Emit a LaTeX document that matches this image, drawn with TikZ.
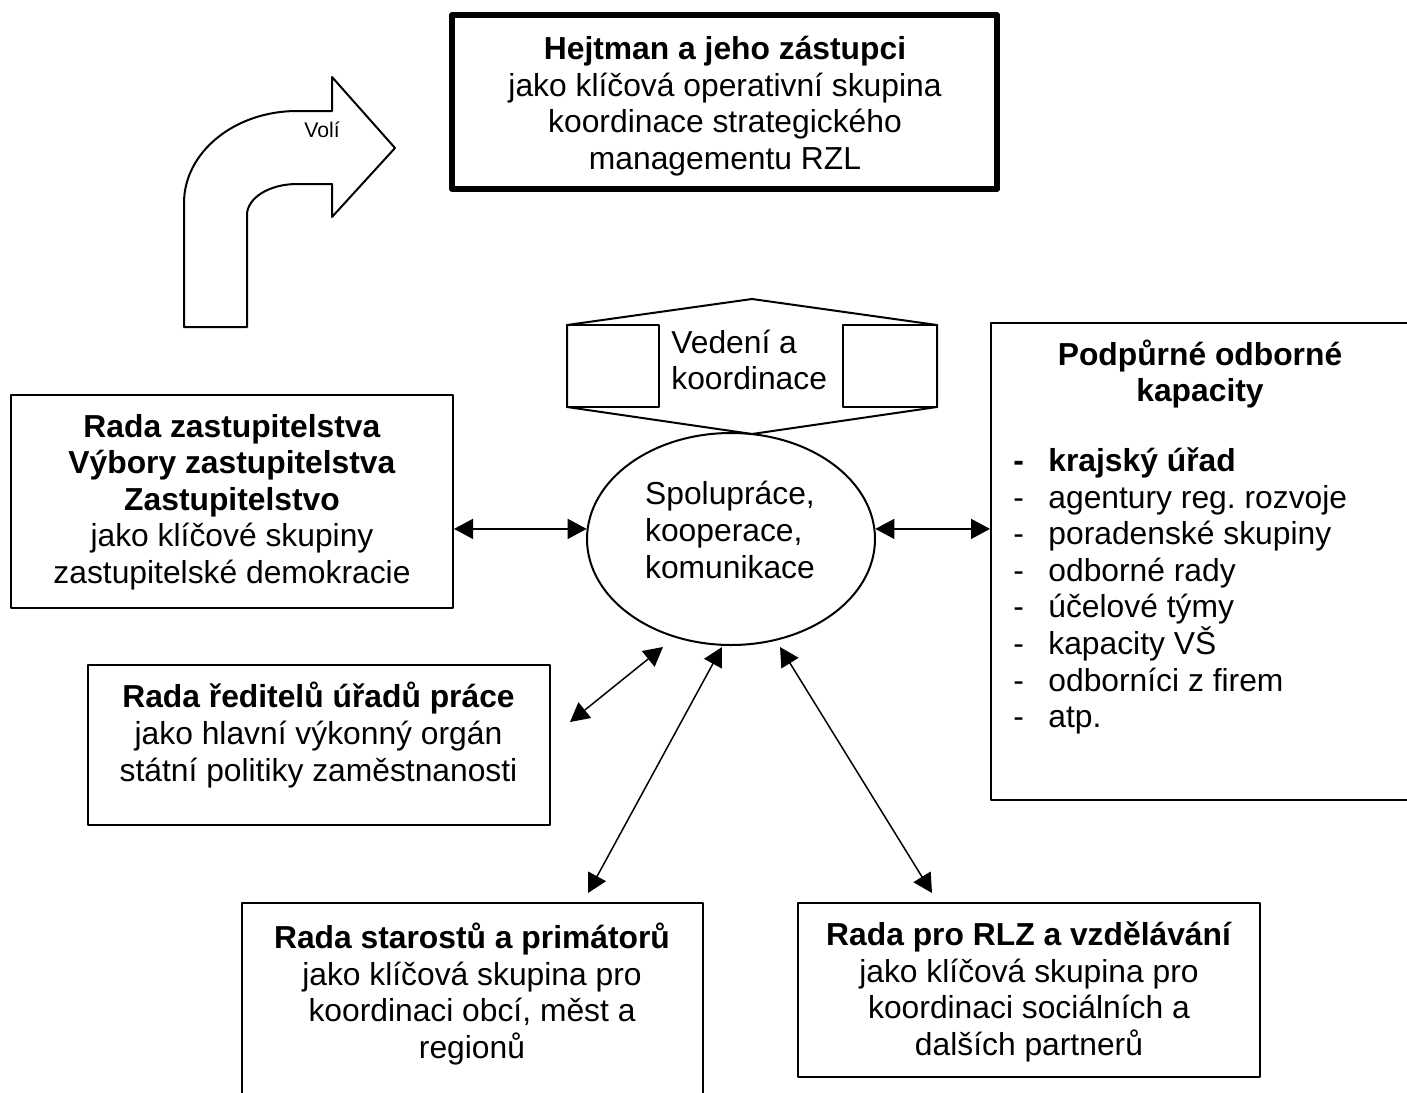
\documentclass[tikz,border=0pt]{standalone}
\usepackage{fontspec}
\setmainfont{Liberation Sans}
\usetikzlibrary{arrows.meta,shapes.geometric}
\frenchspacing
\newcommand{\polozka}[1]{\makebox[17.5pt][l]{-}#1}

\begin{document}
\begin{tikzpicture}[x=0.5pt,y=-0.5pt,line cap=round,line join=round,
  box/.style={draw,line width=1pt,inner sep=0pt},
  txt/.style={inner sep=0pt,align=center,font=\fontsize{15.9}{18.3}\selectfont},
  obou/.style={line width=0.75pt,{Triangle[length=9.5pt,width=10pt]}-{Triangle[length=9.5pt,width=10pt]}}]
  \useasboundingbox (0,0) rectangle (1407,1092);
  \draw[line width=1pt] (184,327) -- (184,203) arc[start angle=180,end angle=270,x radius=113,y radius=92] -- (332,111) -- (332,77) -- (395,148) -- (332,217) -- (332,184) -- (297,184) arc[start angle=270,end angle=180,x radius=50,y radius=31] -- (247,327) -- cycle;
  \node[txt,font=\fontsize{10.6}{12}\selectfont] (voli) at (322,130) {Volí};
  \node[box,line width=3pt,minimum width=272.5pt,minimum height=87pt] (hejtman) at (724.5,102) {};
  \node[txt] (hejtmantxt) at (725,106) {\textbf{Hejtman a jeho zástupci}\\jako klíčová operativní skupina\\koordinace strategického\\managementu RZL};
  \draw[line width=1pt] (752,299) -- (937,325) -- (937,407) -- (752,434) -- (567,407) -- (567,325) -- cycle;
  \draw[line width=1pt] (567,325) -- (659,325) -- (659,407) -- (567,407);
  \draw[line width=1pt] (937,325) -- (843,325) -- (843,407) -- (937,407);
  \node[txt,align=left,anchor=west] (vedeni) at (671,360) {Vedení a\\koordinace};
  \node[draw,ellipse,line width=1pt,inner sep=0pt,minimum width=144pt,minimum height=106pt] (spol) at (731,539) {};
  \node[txt,align=left] (spoltxt) at (730,530) {Spolupráce,\\kooperace,\\komunikace};
  \node[box,minimum width=221pt,minimum height=106.5pt] (zastup) at (232,501.5) {};
  \node[txt] (zastuptxt) at (232,502) {\textbf{Rada zastupitelstva}\\\textbf{Výbory zastupitelstva}\\\textbf{Zastupitelstvo}\\jako klíčové skupiny\\zastupitelské demokracie};
  \node[box,minimum width=209pt,minimum height=238.5pt] (kap) at (1200,561.5) {};
  \node[txt] (kaptxt) at (1200,374) {\textbf{Podpůrné odborné}\\\textbf{kapacity}};
  \node[txt,align=left,anchor=west] (kaplist) at (1013,591) {\textbf{\polozka{krajský úřad}}\\\polozka{agentury reg. rozvoje}\\\polozka{poradenské skupiny}\\\polozka{odborné rady}\\\polozka{účelové týmy}\\\polozka{kapacity VŠ}\\\polozka{odborníci z firem}\\\polozka{atp.}};
  \node[box,minimum width=231pt,minimum height=80pt] (reditelu) at (319,745) {};
  \node[txt] (reditelutxt) at (318.5,735) {\textbf{Rada ředitelů úřadů práce}\\jako hlavní výkonný orgán\\státní politiky zaměstnanosti};
  \node[box,minimum width=230.5pt,minimum height=103.5pt] (starostu) at (472.5,1006.5) {};
  \node[txt] (starostutxt) at (472,994) {\textbf{Rada starostů a primátorů}\\jako klíčová skupina pro\\koordinaci obcí, měst a\\regionů};
  \node[box,minimum width=231pt,minimum height=87pt] (rlz) at (1029,990) {};
  \node[txt] (rlztxt) at (1029,992) {\textbf{Rada pro RLZ a vzdělávání}\\jako klíčová skupina pro\\koordinaci sociálních a\\dalších partnerů};
  \coordinate (redA) at (663,647);
  \coordinate (redB) at (570,722);
  \coordinate (starA) at (722,647);
  \coordinate (starB) at (588,893);
  \coordinate (rlzA) at (780,647);
  \coordinate (rlzB) at (932,893);
  \draw[obou] (spol.176) -- (spol.176 -| zastup.east);
  \draw[obou] (spol.4) -- (spol.4 -| kap.west);
  \draw[obou] (redA) -- (redB);
  \draw[obou] (starA) -- (starB);
  \draw[obou] (rlzA) -- (rlzB);
\end{tikzpicture}
\end{document}
